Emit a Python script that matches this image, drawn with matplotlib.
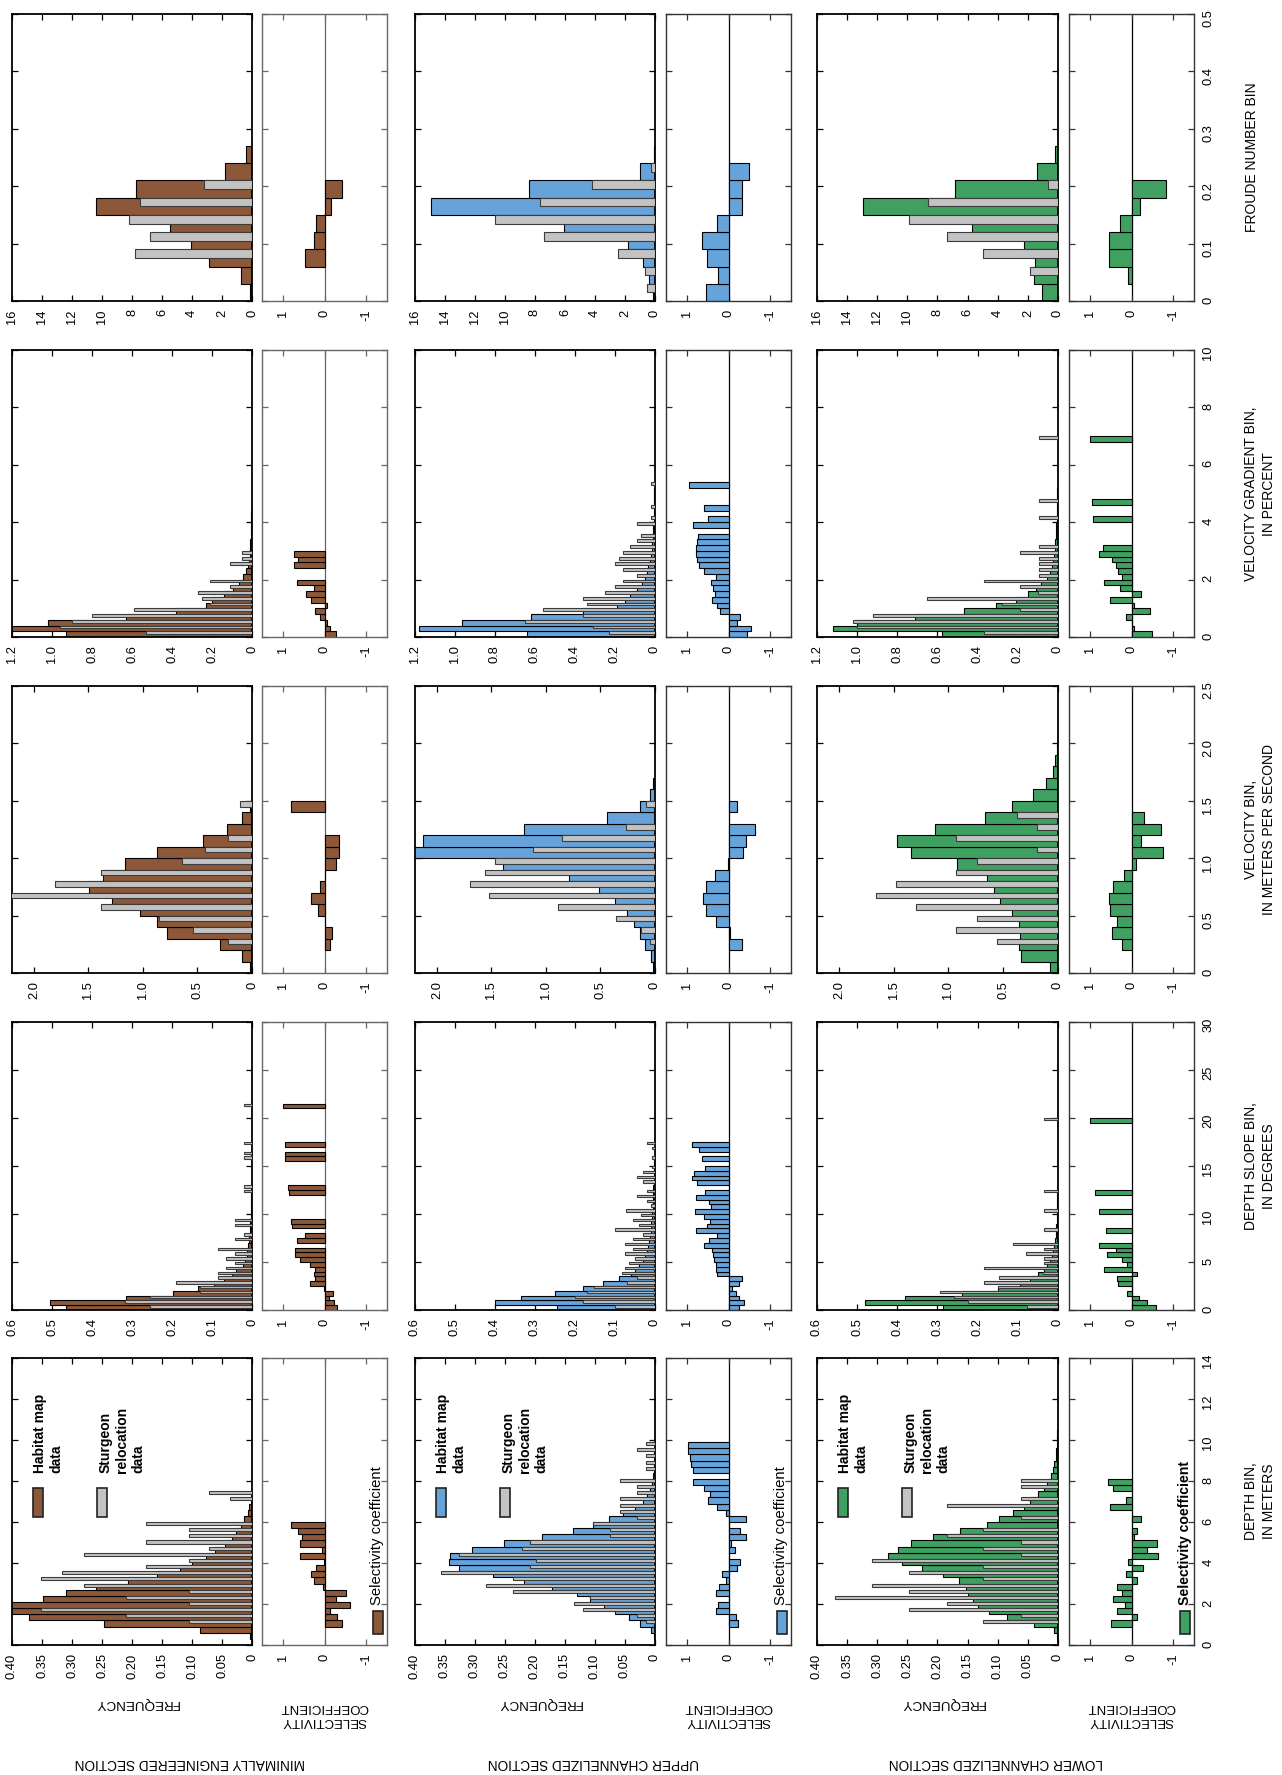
import numpy as np
import matplotlib
matplotlib.use("Agg")
import matplotlib.pyplot as plt
from matplotlib.patches import Rectangle

# ---- data (frequency = density per bin unit; bins start at 0) ----
# depth, 0.3 m bins
D_MIN_HAB = [0, 0.003, 0.087, 0.247, 0.371, 0.42, 0.41, 0.348, 0.31, 0.26, 0.206, 0.159, 0.12, 0.10,
             0.076, 0.062, 0.045, 0.033, 0.026, 0.019, 0.013, 0.007, 0.005, 0.002, 0.001]
D_MIN_STU = [0, 0, 0, 0.105, 0.21, 0.351, 0.105, 0.21, 0.105, 0.28, 0.351, 0.316, 0.176, 0.105,
             0.28, 0.072, 0.176, 0.105, 0.105, 0.176, 0, 0, 0, 0.037, 0.072]
D_MIN_SEL = [None, None, None, -0.41, -0.29, -0.12, -0.61, -0.27, -0.52, 0.03, 0.25, 0.33, 0.2, 0.01,
             0.59, 0.07, 0.59, 0.53, 0.63, 0.8]
D_UP_HAB = [0, 0.002, 0.007, 0.025, 0.044, 0.067, 0.085, 0.108, 0.13, 0.172, 0.219, 0.27, 0.326, 0.344,
            0.341, 0.305, 0.251, 0.189, 0.137, 0.104, 0.076, 0.053, 0.033, 0.02, 0.013, 0.008, 0.005,
            0.003, 0.002, 0.0015, 0.001, 0.001, 0.0007, 0.0005]
D_UP_STU = [0, 0, 0, 0.015, 0.03, 0.12, 0.135, 0.108, 0.237, 0.281, 0.237, 0.356, 0.208, 0.198, 0.326,
            0.222, 0.208, 0.075, 0.075, 0.104, 0.03, 0.059, 0.059, 0.059, 0.03, 0.03, 0.059, 0, 0.015,
            0.015, 0.015, 0.03, 0.015]
D_UP_SEL = [None, None, None, -0.22, -0.17, 0.3, 0.26, 0.0, 0.3, 0.24, 0.05, 0.15, -0.2, -0.27, 0.0,
            -0.15, -0.06, -0.43, -0.28, 0.0, -0.43, 0.05, 0.28, 0.49, 0.45, 0.6, 0.85, None, 0.85,
            0.9, 0.92, 0.98, 0.97]
D_LO_HAB = [0, 0.002, 0.007, 0.04, 0.085, 0.115, 0.133, 0.141, 0.15, 0.152, 0.164, 0.191, 0.226, 0.259,
            0.282, 0.265, 0.244, 0.208, 0.163, 0.118, 0.098, 0.074, 0.057, 0.046, 0.034, 0.024, 0.018,
            0.012, 0.009, 0.006, 0.004, 0.003, 0.002, 0.001, 0.001]
D_LO_STU = [0, 0, 0, 0.124, 0.061, 0.247, 0.185, 0.37, 0.247, 0.308, 0.124, 0.247, 0.124, 0.308, 0.061,
            0.124, 0.061, 0.185, 0.124, 0, 0.061, 0, 0.185, 0.061, 0, 0.061, 0.061]
D_LO_SEL = [None, None, None, 0.5, -0.14, 0.36, 0.16, 0.44, 0.24, 0.34, -0.14, 0.13, -0.28, 0.09, -0.64,
            -0.36, -0.6, -0.06, -0.14, None, -0.22, None, 0.52, 0.14, None, 0.44, 0.56]

# depth slope, 0.5 degree bins
S_MIN_HAB = [0.465, 0.505, 0.316, 0.198, 0.135, 0.094, 0.07, 0.05, 0.04, 0.022, 0.017, 0.012, 0.012,
             0.009, 0.008, 0.007, 0.005, 0.005, 0.004, 0.003, 0.003, 0.002, 0.002, 0.002, 0.0015,
             0.0015, 0.001, 0.001, 0.001, 0.001, 0.001, 0.0008, 0.0008, 0.0006, 0.0006, 0.0005,
             0.0005, 0.0004, 0.0004, 0.0003, 0.0003, 0.0003, 0.0003]
S_MIN_STU = [0.255, 0.318, 0.255, 0.13, 0.13, 0.19, 0.085, 0.085, 0.065, 0.043, 0.065, 0.043, 0.085,
             0, 0.043, 0.02, 0, 0.043, 0.043, 0, 0, 0, 0, 0, 0.02, 0.02, 0, 0, 0, 0, 0, 0.02, 0.02,
             0, 0.02, 0, 0, 0, 0, 0, 0, 0, 0.02]
S_MIN_SEL = [-0.3, -0.23, -0.1, -0.2, 0.02, 0.35, 0.24, 0.26, 0.22, 0.34, 0.58, 0.72, 0.72, None, 0.66,
             0.46, None, 0.78, 0.8, None, None, None, None, None, 0.85, 0.87, None, None, None, None,
             None, 0.96, 0.96, None, 0.96, None, None, None, None, None, None, None, 1.0]
S_UP_HAB = [0.246, 0.4, 0.335, 0.25, 0.18, 0.13, 0.09, 0.06, 0.05, 0.04, 0.03, 0.025, 0.02, 0.018,
            0.015, 0.013, 0.011, 0.01, 0.009, 0.008, 0.007, 0.006, 0.005, 0.005, 0.004, 0.004, 0.003,
            0.003, 0.002, 0.002, 0.002, 0.002, 0.001, 0.001, 0.001]
S_UP_STU = [0.1, 0.18, 0.2, 0.17, 0.152, 0.07, 0.046, 0.083, 0.075, 0.065, 0.05, 0.075, 0.055, 0.075,
            0.055, 0.03, 0.1, 0.04, 0.055, 0.035, 0.072, 0.01, 0.02, 0.045, 0.02, 0, 0.03, 0.045,
            0.03, 0.008, 0, 0.008, 0, 0.008, 0.02]
S_UP_SEL = [-0.25, -0.37, -0.25, -0.18, -0.08, -0.26, -0.32, 0.27, 0.3, 0.3, 0.35, 0.38, 0.4, 0.58,
            0.47, 0.28, 0.78, 0.52, 0.44, 0.58, 0.8, 0.42, 0.48, 0.78, 0.56, None, 0.75, 0.87, 0.82,
            0.56, None, 0.63, None, 0.72, 0.87]
S_LO_HAB = [0.286, 0.48, 0.38, 0.24, 0.15, 0.095, 0.07, 0.05, 0.035, 0.027, 0.02, 0.016, 0.012, 0.009,
            0.007, 0.005, 0.004, 0.004, 0.003, 0.003, 0.002, 0.002, 0.002, 0.0015, 0.0015, 0.001,
            0.001, 0.001, 0.001, 0.001, 0.0008, 0.0008, 0.0006, 0.0006, 0.0005, 0.0005, 0.0004,
            0.0004, 0.0003, 0.0003]
S_LO_STU = [0.076, 0.223, 0.26, 0.295, 0.15, 0.185, 0.148, 0.038, 0.185, 0.036, 0.036, 0.08, 0.036,
            0.112, 0, 0, 0.036, 0, 0, 0, 0.036, 0, 0, 0, 0.036, 0, 0, 0, 0, 0, 0, 0, 0, 0, 0, 0, 0, 0,
            0, 0.036]
S_LO_SEL = [-0.58, -0.37, -0.18, 0.1, 0.0, 0.32, 0.36, -0.12, 0.66, 0.12, 0.22, 0.58, 0.38, 0.78, None,
            None, 0.61, None, None, None, 0.78, None, None, None, 0.87, None, None, None, None, None,
            None, None, None, None, None, None, None, None, None, 1.0]

# velocity, 0.1 m/s bins
V_MIN_HAB = [0.02, 0.09, 0.29, 0.78, 0.87, 1.03, 1.28, 1.49, 1.37, 1.16, 0.87, 0.45, 0.23, 0.09, 0.015]
V_MIN_STU = [0, 0, 0.22, 0.54, 0.85, 1.38, 2.4, 1.81, 1.38, 0.64, 0.43, 0.22, 0, 0, 0.11]
V_MIN_SEL = [None, None, -0.14, -0.18, 0.0, 0.16, 0.32, 0.1, 0.0, -0.28, -0.34, -0.35, None, None, 0.8]
V_UP_HAB = [0.02, 0.04, 0.09, 0.14, 0.19, 0.26, 0.37, 0.51, 0.79, 1.39, 2.3, 2.13, 1.2, 0.44, 0.14,
            0.05, 0.02]
V_UP_STU = [0, 0, 0.046, 0.13, 0.36, 0.89, 1.52, 1.7, 1.56, 1.47, 1.12, 0.85, 0.27, 0, 0.085]
V_UP_SEL = [None, None, -0.33, -0.04, 0.31, 0.55, 0.62, 0.55, 0.33, 0.02, -0.34, -0.42, -0.63, None, -0.2]
V_LO_HAB = [0.076, 0.34, 0.36, 0.35, 0.36, 0.42, 0.53, 0.58, 0.65, 0.92, 1.34, 1.47, 1.12, 0.67, 0.42,
            0.23, 0.11, 0.05, 0.024, 0.01, 0.003]
V_LO_STU = [0, 0, 0.56, 0.93, 0.74, 1.3, 1.66, 1.48, 0.93, 0.74, 0.19, 0.93, 0.19, 0.37]
V_LO_SEL = [None, None, 0.22, 0.46, 0.36, 0.52, 0.53, 0.44, 0.18, -0.1, -0.76, -0.22, -0.71, -0.29]

# velocity gradient, 0.2 percent bins
G_MIN_HAB = [0.93, 1.25, 1.02, 0.63, 0.38, 0.23, 0.2, 0.14, 0.095, 0.065, 0.045, 0.03, 0.02, 0.015,
             0.012, 0.01, 0.008, 0.006, 0.005, 0.004, 0.003, 0.003, 0.002, 0.002, 0.002, 0.001]
G_MIN_STU = [0.53, 0.96, 0.9, 0.8, 0.59, 0.21, 0.25, 0.27, 0.11, 0.21, 0, 0, 0.11, 0.05, 0.05]
G_MIN_SEL = [-0.27, -0.14, -0.06, 0.12, 0.22, -0.05, 0.32, 0.44, 0.26, 0.67, None, None, 0.74, 0.64, 0.74]
G_UP_HAB = [0.64, 1.18, 0.965, 0.62, 0.36, 0.19, 0.15, 0.125, 0.09, 0.067, 0.05, 0.04, 0.033, 0.025,
            0.02, 0.016, 0.013, 0.011, 0.009, 0.008, 0.007, 0.006, 0.005, 0.004, 0.003, 0.003, 0.002]
G_UP_STU = [0.23, 0.31, 0.65, 0.36, 0.56, 0.34, 0.36, 0.25, 0.2, 0.16, 0.09, 0.16, 0.2, 0.18, 0.16,
            0.125, 0.09, 0.07, 0, 0.09, 0.02, 0, 0.02, 0, 0, 0, 0.02]
G_UP_SEL = [-0.45, -0.54, -0.2, -0.27, 0.2, 0.28, 0.4, 0.33, 0.38, 0.41, 0.29, 0.6, 0.7, 0.75, 0.78,
            0.77, 0.75, 0.73, None, 0.86, 0.5, None, 0.6, None, None, None, 0.95]
G_LO_HAB = [0.58, 1.12, 1.0, 0.71, 0.47, 0.31, 0.21, 0.15, 0.11, 0.086, 0.057, 0.04, 0.03, 0.023, 0.02,
            0.017, 0.014, 0.012, 0.01, 0.008, 0.007, 0.006, 0.005, 0.004, 0.003, 0.003, 0.002]
G_LO_STU = [0.37, 1.0, 1.02, 0.92, 0.19, 0.28, 0.65, 0.1, 0.19, 0.37, 0.093, 0.093, 0.093, 0.093, 0.19,
            0.093, 0, 0, 0, 0, 0.093, 0, 0, 0.093, 0, 0, 0, 0, 0, 0, 0, 0, 0, 0, 0.093]
G_LO_SEL = [-0.5, -0.06, 0.0, 0.14, -0.44, -0.06, 0.51, -0.22, 0.28, 0.66, 0.22, 0.32, 0.38, 0.48, 0.78,
            0.68, None, None, None, None, 0.92, None, None, 0.94, None, None, None, None, None, None,
            None, None, None, None, 1.0]

# Froude number, 0.03 bins
F_MIN_HAB = [0.15, 0.73, 2.86, 4.06, 5.44, 10.39, 7.72, 1.82, 0.42]
F_MIN_STU = [0, 0, 7.83, 6.77, 8.17, 7.46, 3.2, 0, 0]
F_MIN_SEL = [None, None, 0.48, 0.25, 0.2, -0.16, -0.41]
F_UP_HAB = [0.16, 0.38, 0.82, 1.78, 6.1, 14.91, 8.37, 1.0, 0.07]
F_UP_STU = [0.53, 0.65, 2.44, 7.39, 10.65, 7.66, 4.22, 0.29, 0]
F_UP_SEL = [0.55, 0.26, 0.52, 0.63, 0.28, -0.32, -0.32, -0.5]
F_LO_HAB = [1.04, 1.57, 1.53, 2.26, 5.74, 12.95, 6.83, 1.37, 0.22]
F_LO_STU = [0, 1.86, 4.97, 7.4, 9.89, 8.63, 0.64, 0, 0]
F_LO_SEL = [None, 0.08, 0.53, 0.53, 0.27, -0.2, -0.83]

SECTIONS = ["MINIMALLY ENGINEERED SECTION", "UPPER CHANNELIZED SECTION", "LOWER CHANNELIZED SECTION"]
SECTION_COLORS = ["#8c5839", "#66a3da", "#40a062"]
GRAY = "#c3c3c3"

# variable name, bin width, axis max, axis ticks, tick labels, freq max, freq ticks, freq labels, axis title
VARIABLES = [
    ("depth", 0.3, 14, [0, 2, 4, 6, 8, 10, 12, 14], ["0", "2", "4", "6", "8", "10", "12", "14"],
     0.40, [0, 0.05, 0.10, 0.15, 0.20, 0.25, 0.30, 0.35, 0.40],
     ["0", "0.05", "0.10", "0.15", "0.20", "0.25", "0.30", "0.35", "0.40"], "DEPTH BIN,\nIN METERS",
     [(D_MIN_HAB, D_MIN_STU, D_MIN_SEL), (D_UP_HAB, D_UP_STU, D_UP_SEL), (D_LO_HAB, D_LO_STU, D_LO_SEL)]),
    ("slope", 0.5, 30, [0, 5, 10, 15, 20, 25, 30], ["0", "5", "10", "15", "20", "25", "30"],
     0.6, [0, 0.1, 0.2, 0.3, 0.4, 0.5, 0.6], ["0", "0.1", "0.2", "0.3", "0.4", "0.5", "0.6"],
     "DEPTH SLOPE BIN,\nIN DEGREES",
     [(S_MIN_HAB, S_MIN_STU, S_MIN_SEL), (S_UP_HAB, S_UP_STU, S_UP_SEL), (S_LO_HAB, S_LO_STU, S_LO_SEL)]),
    ("velocity", 0.1, 2.5, [0, 0.5, 1.0, 1.5, 2.0, 2.5], ["0", "0.5", "1.0", "1.5", "2.0", "2.5"],
     2.2, [0, 0.5, 1.0, 1.5, 2.0], ["0", "0.5", "1.0", "1.5", "2.0"],
     "VELOCITY BIN,\nIN METERS PER SECOND",
     [(V_MIN_HAB, V_MIN_STU, V_MIN_SEL), (V_UP_HAB, V_UP_STU, V_UP_SEL), (V_LO_HAB, V_LO_STU, V_LO_SEL)]),
    ("gradient", 0.2, 10, [0, 2, 4, 6, 8, 10], ["0", "2", "4", "6", "8", "10"],
     1.2, [0, 0.2, 0.4, 0.6, 0.8, 1.0, 1.2], ["0", "0.2", "0.4", "0.6", "0.8", "1.0", "1.2"],
     "VELOCITY GRADIENT BIN,\nIN PERCENT",
     [(G_MIN_HAB, G_MIN_STU, G_MIN_SEL), (G_UP_HAB, G_UP_STU, G_UP_SEL), (G_LO_HAB, G_LO_STU, G_LO_SEL)]),
    ("froude", 0.03, 0.5, [0, 0.1, 0.2, 0.3, 0.4, 0.5], ["0", "0.1", "0.2", "0.3", "0.4", "0.5"],
     16, [0, 2, 4, 6, 8, 10, 12, 14, 16], ["0", "2", "4", "6", "8", "10", "12", "14", "16"],
     "FROUDE NUMBER BIN",
     [(F_MIN_HAB, F_MIN_STU, F_MIN_SEL), (F_UP_HAB, F_UP_STU, F_UP_SEL), (F_LO_HAB, F_LO_STU, F_LO_SEL)]),
]

# ---- layout (pixels of the 1282 x 1775 page) ----
W, H = 1282, 1775
ROW_Y = [(1358, 1645), (1022, 1310), (686, 973), (350, 637), (14, 301)]
FREQ_X = [(12, 252), (415, 655), (817, 1058)]
SEL_X = [(262, 387), (666, 791), (1069, 1194)]

plt.rcParams["font.family"] = ["Liberation Sans", "DejaVu Sans"]


def rect(x0, x1, y0, y1):
    return [x0 / W, 1 - y1 / H, (x1 - x0) / W, (y1 - y0) / H]


def fx(x):
    return x / W


def fy(y):
    return 1 - y / H


def style_axis(ax, spine_color, lw):
    for sp in ax.spines.values():
        sp.set_color(spine_color)
        sp.set_linewidth(lw)
    ax.tick_params(direction="in", top=True, bottom=True, left=True, right=True,
                   length=4, width=0.9, color=spine_color,
                   labelleft=False, labelright=False, labeltop=False)
    ax.tick_params(axis="x", labelsize=9.3, labelrotation=90, pad=6, labelcolor="black")


fig = plt.figure(figsize=(W / 100, H / 100), dpi=100)

for r, (name, bw, vmax, vt, vtl, fmax, ft, ftl, title, series) in enumerate(VARIABLES):
    y0, y1 = ROW_Y[r]
    for c in range(3):
        hab, stu, sel = series[c]
        color = SECTION_COLORS[c]
        axf = fig.add_axes(rect(FREQ_X[c][0], FREQ_X[c][1], y0, y1))
        axs = fig.add_axes(rect(SEL_X[c][0], SEL_X[c][1], y0, y1))

        h = np.asarray(hab, dtype=float)
        yb = np.arange(len(h)) * bw
        m = h > 0
        axf.barh(yb[m], h[m], height=bw, align="edge", color=color,
                 edgecolor="black", linewidth=0.8, zorder=2)
        s = np.asarray(stu, dtype=float)
        ys = np.arange(len(s)) * bw + bw / 2
        m = s > 0
        axf.barh(ys[m], s[m], height=bw / 2, align="edge", color=GRAY,
                 edgecolor="#3c3c3c", linewidth=0.8, zorder=3)
        axf.set_xlim(fmax, 0)
        axf.set_ylim(0, vmax)
        axf.set_xticks(ft)
        axf.set_xticklabels(ftl)
        axf.set_yticks(vt)
        style_axis(axf, "black", 1.3)

        sv = np.array([np.nan if v is None else v for v in sel], dtype=float)
        ysel = np.arange(len(sv)) * bw
        m = ~np.isnan(sv)
        axs.barh(ysel[m], sv[m], height=bw, align="edge", color=color,
                 edgecolor="black", linewidth=0.8, zorder=2)
        axs.axvline(0, color="black" if c else "#666666", linewidth=0.9, zorder=1)
        axs.set_xlim(1.5, -1.5)
        axs.set_ylim(0, vmax)
        axs.set_xticks([1, 0, -1])
        axs.set_xticklabels(["1", "0", "-1"])
        axs.set_yticks(vt)
        style_axis(axs, "#666666" if c == 0 else "#333333", 1.0)
        if c == 2:
            axs.set_yticklabels(vtl)
            axs.tick_params(axis="y", labelright=True, labelsize=9.3, labelrotation=90, pad=6)

        if r == 0:
            # frequency legend
            fl = FREQ_X[c][0]
            for dx, col, txt, tx in ((21, color, "Habitat map\ndata", 36),
                                     (85, GRAY, "Sturgeon\nrelocation\ndata", 110)):
                fig.add_artist(Rectangle((fx(fl + dx), fy(1517)), 10 / W, 29 / H,
                                         transform=fig.transFigure, facecolor=col,
                                         edgecolor="#222222", linewidth=1.2))
                fig.text(fx(fl + tx), fy(1473), txt, rotation=90, rotation_mode="anchor",
                         ha="left", va="center", multialignment="left", fontsize=10,
                         fontweight="bold", linespacing=1.2)
            # selectivity legend
            sx = (SEL_X[c][0] + SEL_X[c][1]) / 2 + 53
            fig.add_artist(Rectangle((fx(sx - 5), fy(1634)), 10 / W, 23 / H,
                                     transform=fig.transFigure, facecolor=color,
                                     edgecolor="#222222", linewidth=1.2))
            fig.text(fx(sx), fy(1605), "Selectivity coefficient", rotation=90,
                     rotation_mode="anchor", ha="left", va="center",
                     fontsize=10.2 if c == 2 else 10.7,
                     fontweight="bold" if c == 2 else "normal")

            # bottom labels (upside down)
            fig.text(fx((FREQ_X[c][0] + FREQ_X[c][1]) / 2 + 5), fy(1703), "FREQUENCY",
                     rotation=180, ha="center", va="center", fontsize=9.7)
            fig.text(fx((SEL_X[c][0] + SEL_X[c][1]) / 2), fy(1714), "SELECTIVITY\nCOEFFICIENT",
                     rotation=180, ha="center", va="center", fontsize=9.5, linespacing=1.15)
            fig.text(fx((FREQ_X[c][0] + SEL_X[c][1]) / 2 - 10), fy(1763), SECTIONS[c],
                     rotation=180, ha="center", va="center", fontsize=9.8)

    fig.text(fx(1260 if "\n" in title else 1252), fy((y0 + y1) / 2), title, rotation=90,
             ha="center", va="center", fontsize=10, linespacing=1.35)

fig.savefig("out.png", dpi=100)
